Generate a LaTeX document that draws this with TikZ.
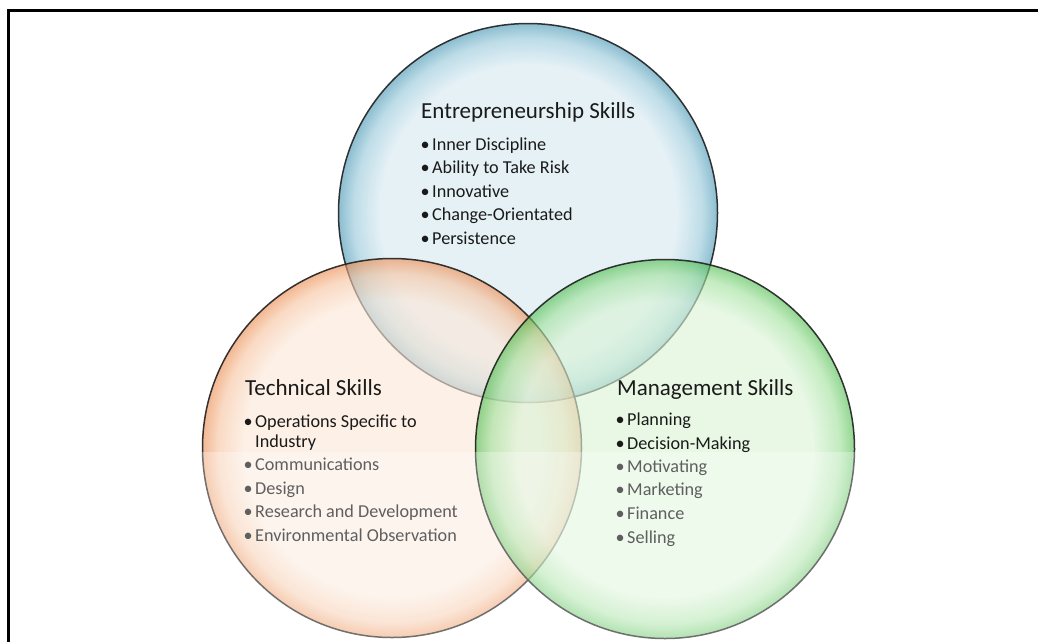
\documentclass[tikz,border=0pt]{standalone}
\usepackage{fontspec}
\setmainfont{Carlito}
\definecolor{txt}{HTML}{1A1A1A}
\definecolor{bIn}{RGB}{216,234,242}
\definecolor{bMid}{RGB}{150,200,218}
\definecolor{bRim}{RGB}{70,150,180}
\definecolor{oIn}{RGB}{252,232,216}
\definecolor{oMid}{RGB}{247,196,160}
\definecolor{oRim}{RGB}{236,140,80}
\definecolor{gIn}{RGB}{218,244,214}
\definecolor{gMid}{RGB}{160,225,155}
\definecolor{gRim}{RGB}{80,190,80}
\pgfdeclareradialshading{bluerim}{\pgfpoint{0bp}{0bp}}{color(0bp)=(bIn); color(19.5bp)=(bIn); color(23bp)=(bMid); color(25bp)=(bRim); color(50bp)=(bRim)}
\pgfdeclareradialshading{orangerim}{\pgfpoint{0bp}{0bp}}{color(0bp)=(oIn); color(19.5bp)=(oIn); color(23bp)=(oMid); color(25bp)=(oRim); color(50bp)=(oRim)}
\pgfdeclareradialshading{greenrim}{\pgfpoint{0bp}{0bp}}{color(0bp)=(gIn); color(19.5bp)=(gIn); color(23bp)=(gMid); color(25bp)=(gRim); color(50bp)=(gRim)}
\tikzset{
  bubble/.style={circle, minimum size=379pt, inner sep=0pt, shade, fill opacity=0.62, draw=black!88, draw opacity=0.9, line width=1.5pt},
  ttl/.style={anchor=base west, inner sep=0pt, font=\fontsize{23}{27}\selectfont, text=txt},
  itm/.style={anchor=base west, inner sep=0pt, font=\fontsize{18.2}{21}\selectfont, text=txt},
}
\newcommand{\bl}{\llap{•\kern2.5pt}}
\begin{document}
\begin{tikzpicture}[x=1pt,y=-1pt]
\useasboundingbox (0,0) rectangle (1038,641);
\fill[white] (0,0) rectangle (1038,641);
% circles
\node[bubble, shading=bluerim]   (ent)  at (528,213) {};
\node[bubble, shading=orangerim] (tech) at (392,448) {};
\node[bubble, shading=greenrim]  (man)  at (665,449) {};
% Entrepreneurship
\node[ttl] (et) at (421,118) {Entrepreneurship Skills};
\node[itm] (e1) at (432,150) {\bl Inner Discipline};
\node[itm] (e2) at (432,173.5) {\bl Ability to Take Risk};
\node[itm] (e3) at (432,197) {\bl Innovative};
\node[itm] (e4) at (432,220.5) {\bl Change-Orientated};
\node[itm] (e5) at (432,244) {\bl Persistence};
% Technical
\node[ttl] (tt) at (245,395) {Technical Skills};
\node[itm] (t1) at (255,427) {\bl Operations Specific to};
\node[itm] (t1b) at (255,447) {Industry};
\node[itm] (t2) at (255,470.5) {\bl Communications};
\node[itm] (t3) at (255,494) {\bl Design};
\node[itm] (t4) at (255,517.5) {\bl Research and Development};
\node[itm] (t5) at (255,541) {\bl Environmental Observation};
% Management
\node[ttl] (mt) at (617,395) {Management Skills};
\node[itm] (m1) at (627,425) {\bl Planning};
\node[itm] (m2) at (627,449) {\bl Decision-Making};
\node[itm] (m3) at (627,472) {\bl Motivating};
\node[itm] (m4) at (627,495.5) {\bl Marketing};
\node[itm] (m5) at (627,519) {\bl Finance};
\node[itm] (m6) at (627,543) {\bl Selling};
% washed lower band
\fill[white, opacity=0.3] (10,452) rectangle (1038,641);
% frame
\draw[line width=3pt, line cap=rect] (8.8,641) -- (8.8,10.8) -- (1038,10.8);
\end{tikzpicture}
\end{document}
